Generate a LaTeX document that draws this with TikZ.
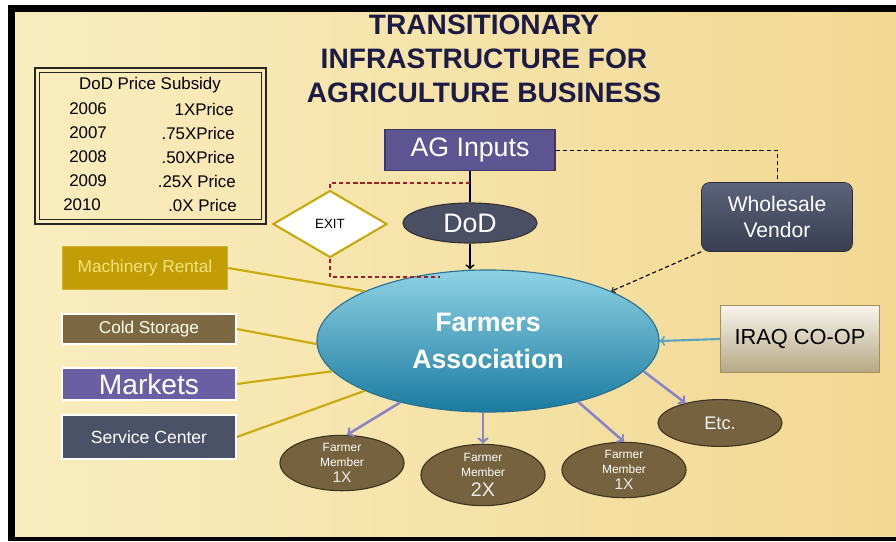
\documentclass[tikz,border=0pt]{standalone}
\usepackage{fontspec}
\setmainfont{Liberation Sans}
\usepackage{xcolor}
\usetikzlibrary{shapes.geometric}

\definecolor{parchlight}{HTML}{F9EDBF}
\definecolor{parchdark}{HTML}{F2D892}
\definecolor{titlenavy}{HTML}{1B1B45}
\definecolor{agfill}{HTML}{5D5591}
\definecolor{agedge}{HTML}{3C3766}
\definecolor{dodfill}{HTML}{4A4F63}
\definecolor{vendortop}{HTML}{5C627A}
\definecolor{vendorbot}{HTML}{393E51}
\definecolor{fatop}{HTML}{8ED2E4}
\definecolor{fabot}{HTML}{1B7AA0}
\definecolor{faedge}{HTML}{2A7090}
\definecolor{cooptop}{HTML}{F8F5EC}
\definecolor{coopbot}{HTML}{B5A785}
\definecolor{coopedge}{HTML}{A38F5E}
\definecolor{rentalfill}{HTML}{C39D05}
\definecolor{rentaltext}{HTML}{F2E27C}
\definecolor{coldfill}{HTML}{7C6944}
\definecolor{marketsfill}{HTML}{6B5FA4}
\definecolor{servicefill}{HTML}{4B5167}
\definecolor{memberfill}{HTML}{76623E}
\definecolor{memberedge}{HTML}{3E3422}
\definecolor{spokegold}{HTML}{C9A90C}
\definecolor{lavender}{HTML}{8884C8}
\definecolor{coopblue}{HTML}{5AA6C2}
\definecolor{exitred}{HTML}{9A2222}
\definecolor{exitgold}{HTML}{C7A80E}

\begin{document}
\begin{tikzpicture}[x=0.025cm, y=-0.025cm, every node/.style={inner sep=0pt},
  sidebox/.style={draw=white, line width=1pt, minimum width=4.35cm},
  member/.style={ellipse, draw=memberedge, thick, fill=memberfill, minimum width=3.1cm, minimum height=1.17cm, text=white, align=center, font=\fontsize{8.5}{10.5}\selectfont},
  spoke/.style={draw=spokegold, line width=1.5pt},
  memberarrow/.style={->, draw=lavender, line width=1.8pt},
  exitline/.style={draw=exitred, densely dashed, line width=0.8pt},
  pricetext/.style={font=\fontsize{12}{14}\selectfont}]

% Frame and background
\fill[white] (0,0) rectangle (896,541);
\fill[black] (8,5) rectangle (896,541);
\shade[left color=parchlight, right color=parchdark] (15,12) rectangle (896,536);

% Title
\node[text=titlenavy, align=center, font=\bfseries\fontsize{20}{24}\selectfont] (title) at (484,59) {TRANSITIONARY\\INFRASTRUCTURE FOR\\AGRICULTURE BUSINESS};

% Price subsidy table
\node[draw=black!85, line width=0.8pt, minimum width=5.775cm, minimum height=3.9cm] (subsidy) at (150.5,146) {};
\node[draw=black!85, line width=0.8pt, minimum width=5.55cm, minimum height=3.675cm] (subsidyin) at (150.5,146) {};
\node[pricetext] (subhead) at (150,85) {DoD Price Subsidy};
\node[pricetext, anchor=west] (y2006) at (69,109) {2006};
\node[pricetext, anchor=west] (y2007) at (69,133) {2007};
\node[pricetext, anchor=west] (y2008) at (69,157) {2008};
\node[pricetext, anchor=west] (y2009) at (69,181) {2009};
\node[pricetext, anchor=west] (y2010) at (63,205) {2010};
\node[pricetext, anchor=east] (p2006) at (234,109) {1XPrice};
\node[pricetext, anchor=east] (p2007) at (235,133) {.75XPrice};
\node[pricetext, anchor=east] (p2008) at (235,157) {.50XPrice};
\node[pricetext, anchor=east] (p2009) at (236,181) {.25X Price};
\node[pricetext, anchor=east] (p2010) at (237,205) {.0X Price};

% AG inputs
\node[draw=agedge, thick, fill=agfill, minimum width=4.25cm, minimum height=1.025cm, text=white, font=\fontsize{19}{22}\selectfont] (ag) at (470,150) {AG Inputs};

% DoD
\node[ellipse, draw=black!80, thick, fill=dodfill, minimum width=3.35cm, minimum height=1cm, text=white, font=\fontsize{19}{22}\selectfont] (dod) at (470,223) {DoD};

% Exit
\node[diamond, draw=exitgold, line width=1.5pt, fill=white, minimum width=2.85cm, minimum height=1.675cm, font=\fontsize{9.5}{11}\selectfont] (exit) at (330,224) {EXIT};

% Wholesale vendor
\node[draw=vendorbot!70!black, rounded corners=0.2cm, top color=vendortop, bottom color=vendorbot, minimum width=3.775cm, minimum height=1.725cm, text=white, align=center, font=\fontsize{15}{19}\selectfont] (vendor) at (777,217) {Wholesale\\Vendor};

% Farmers association
\node[ellipse, draw=faedge, thick, top color=fatop, bottom color=fabot, minimum width=8.55cm, minimum height=3.55cm, text=white, align=center, font=\bfseries\fontsize{19}{26}\selectfont] (fa) at (488,341) {Farmers\\Association};

% Iraq co-op
\node[draw=coopedge, thick, top color=cooptop, bottom color=coopbot, minimum width=3.975cm, minimum height=1.675cm, font=\fontsize{15.5}{18}\selectfont] (coop) at (800,339) {IRAQ CO-OP};

% Left services
\node[sidebox, draw=rentalfill!80!white, fill=rentalfill, minimum width=4.125cm, minimum height=1.075cm, text=rentaltext, font=\fontsize{12.3}{14}\selectfont] (rental) at (145,268) {Machinery Rental};
\node[sidebox, fill=coldfill, minimum height=0.75cm, text=white!92!yellow, font=\fontsize{12.2}{14}\selectfont] (cold) at (149,329) {Cold Storage};
\node[sidebox, fill=marketsfill, minimum height=0.8cm, text=white, font=\fontsize{20}{22}\selectfont] (markets) at (149,384) {Markets};
\node[sidebox, fill=servicefill, minimum height=1.1cm, text=white, font=\fontsize{12.5}{14}\selectfont] (service) at (149,437) {Service Center};

% Farmer members
\node[member] (mem1) at (342,463) {Farmer\\Member\\[1pt]{\fontsize{11}{11}\selectfont\color{white!85!gray}1X}};
\node[member] (mem2) at (483,475) {Farmer\\Member\\[4pt]{\fontsize{14}{13}\selectfont\color{white!85!gray}2X}};
\node[member] (mem3) at (624,470) {Farmer\\Member\\[1pt]{\fontsize{11}{11}\selectfont\color{white!85!gray}1X}};
\node[member, font=\fontsize{13}{15}\selectfont, text=white!90!gray] (etc) at (720,423) {Etc.};

% Arrows
\draw[line width=1.5pt] (ag.south) -- (dod.north);
\draw[->, line width=1.3pt] (dod.south) -- (dod.south |- fa.north);
\coordinate (exitjoin) at (470,183);
\coordinate (exitend) at (440,277);
\draw[exitline] (exitjoin) -| (exit.north);
\draw[exitline] (exit.south) |- (exitend);
\draw[densely dashed, line width=0.7pt] (ag.east) -| (vendor.north);
\draw[->, densely dashed, line width=0.8pt] (vendor.south west) -- (fa.22);
\draw[->, draw=coopblue, line width=1.5pt] (coop.west) -- (fa.east);
\draw[spoke] (rental.east) -- (fa.158);
\draw[spoke] (cold.east) -- (fa.181);
\draw[spoke] (markets.east) -- (fa.191);
\draw[spoke] (service.east) -- (fa.202);
\draw[memberarrow] (fa.215) -- (mem1.80);
\draw[memberarrow] (mem2.north |- fa.south) -- (mem2.north);
\draw[memberarrow] (fa.326) -- (mem3.north);
\draw[memberarrow] (fa.349) -- (etc.150);

\end{tikzpicture}
\end{document}
